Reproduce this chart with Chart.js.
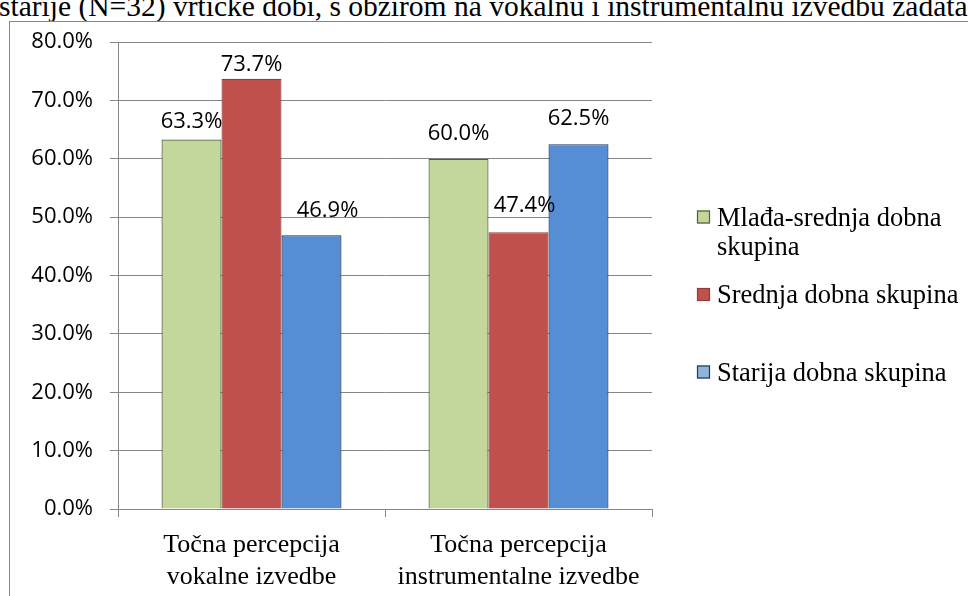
<!DOCTYPE html>
<html>
<head>
<meta charset="utf-8">
<script src="https://cdn.jsdelivr.net/npm/chart.js@4.4.0/dist/chart.umd.min.js"></script>
<style>
	html, body { margin: 0; padding: 0; background: #ffffff; overflow: hidden; }
	#page { position: relative; width: 968px; height: 596px; overflow: hidden; }
	#caption {
		position: absolute; left: -1px; top: -8px; white-space: nowrap;
		font-family: "Liberation Serif", "Times New Roman", serif; font-size: 29.5px; line-height: 29.5px; color: #000;
	}
	#frame { position: absolute; left: 9px; top: 21px; width: 1000px; height: 700px; border: 1.5px solid #868686; box-sizing: border-box; }
	#chart { position: absolute; left: 0; top: 0; }
	.preload { position: absolute; left: -999px; top: -999px; }
</style>
</head>
<body>
<div id="page">
	<div id="caption">starije (N=32) vrtićke dobi, s obzirom na vokalnu i instrumentalnu izvedbu zadataka</div>
	<div id="frame"></div>
	<canvas id="chart" width="968" height="596"></canvas>
</div>
<span class="preload" style="font-family: 'Open Sans'">0.0%</span>
<span class="preload" style="font-family: 'Liberation Serif'">Srednja</span>
<script>
// podaci s grafikona (postoci)
const categories = [
	['Točna percepcija', 'vokalne izvedbe'],
	['Točna percepcija', 'instrumentalne izvedbe']
];
const seriesNames = ['Mlađa-srednja dobna skupina', 'Srednja dobna skupina', 'Starija dobna skupina'];
const mladaSrednja = [63.3, 60.0];
const srednja = [73.7, 47.4];
const starija = [46.9, 62.5];
const yTicks = { min: 0, max: 80, step: 10 };

// izgled
const fills = ['#C3D69B', '#C0504D', '#558ED5'];
const borders = ['#4F6228', '#943B38', '#1F3A60'];
const legendFills = ['#C3D69B', '#C0504D', '#95B3D7'];
const labelLift = [[11, 19], [8, 20], [18, 19]];
const labelDx = [[0, 0], [0, 6], [16, 0]];
const gridColor = '#868686';
const serif = '"Liberation Serif", "Times New Roman", serif';
const sans = '"Open Sans", "Noto Sans", sans-serif';
const sansSize = 22;

const valueLabels = {
	id: 'valueLabels',
	afterDatasetsDraw(chart) {
		const ctx = chart.ctx;
		ctx.save();
		ctx.font = sansSize + 'px ' + sans;
		ctx.fillStyle = '#000';
		ctx.textAlign = 'center';
		ctx.textBaseline = 'alphabetic';
		chart.data.datasets.forEach((ds, i) => {
			chart.getDatasetMeta(i).data.forEach((bar, j) => {
				ctx.fillText(ds.data[j].toFixed(1) + '%', bar.x + labelDx[i][j], bar.y - labelLift[i][j]);
			});
		});
		ctx.restore();
	}
};

function wrapText(ctx, text, maxWidth) {
	const words = text.split(' ');
	const lines = [];
	let line = '';
	words.forEach(w => {
		const test = line ? line + ' ' + w : w;
		if (ctx.measureText(test).width > maxWidth && line) {
			lines.push(line);
			line = w;
		} else {
			line = test;
		}
	});
	lines.push(line);
	return lines;
}

const sideLegend = {
	id: 'sideLegend',
	afterDraw(chart) {
		const ctx = chart.ctx;
		const boxX = 697, textX = 717, box = 13;
		let y = 217;
		ctx.save();
		ctx.font = '26.5px ' + serif;
		ctx.textBaseline = 'middle';
		ctx.textAlign = 'left';
		chart.data.datasets.forEach((ds, i) => {
			ctx.fillStyle = legendFills[i];
			ctx.fillRect(boxX, y - box / 2, box, box);
			ctx.strokeStyle = borders[i];
			ctx.lineWidth = 1.2;
			ctx.strokeRect(boxX + 0.5, y - box / 2 + 0.5, box - 1, box - 1);
			ctx.fillStyle = '#000';
			const lines = wrapText(ctx, ds.label, 250);
			lines.forEach((l, k) => ctx.fillText(l, textX, y + 2 + k * 29));
			y += 77.5;
		});
		ctx.restore();
	}
};

const seriesValues = [mladaSrednja, srednja, starija];

function drawChart() {
	new Chart(document.getElementById('chart').getContext('2d'), {
		type: 'bar',
		data: {
			labels: categories,
			datasets: seriesNames.map((name, i) => ({
				label: name,
				data: seriesValues[i],
				backgroundColor: fills[i],
				borderColor: borders[i],
				borderWidth: 1.2,
				categoryPercentage: 0.674,
				barPercentage: 1
			}))
		},
		options: {
			responsive: false,
			animation: false,
			layout: { padding: { left: 0, right: 316, top: 42, bottom: 0 } },
			plugins: {
				legend: { display: false },
				tooltip: { enabled: false }
			},
			scales: {
				x: {
					grid: { drawOnChartArea: false, drawTicks: true, tickLength: 8, color: gridColor },
					border: { color: gridColor, width: 1 },
					ticks: { color: '#000', font: { family: serif, size: 26, lineHeight: 1.2 }, padding: 13, maxRotation: 0 },
					afterFit(scale) { scale.height = 87; }
				},
				y: {
					min: yTicks.min,
					max: yTicks.max,
					grid: { color: gridColor, tickLength: 8 },
					border: { color: gridColor, width: 1 },
					ticks: {
						stepSize: yTicks.step,
						color: '#000',
						font: { family: sans, size: sansSize },
						padding: 17,
						callback: v => v.toFixed(1) + '%'
					},
					afterFit(scale) { scale.width = 118; }
				}
			}
		},
		plugins: [valueLabels, sideLegend]
	});
}

Promise.all([
	document.fonts.load(sansSize + 'px "Open Sans"'),
	document.fonts.load('26px "Liberation Serif"')
]).then(drawChart, drawChart);
</script>
</body>
</html>
